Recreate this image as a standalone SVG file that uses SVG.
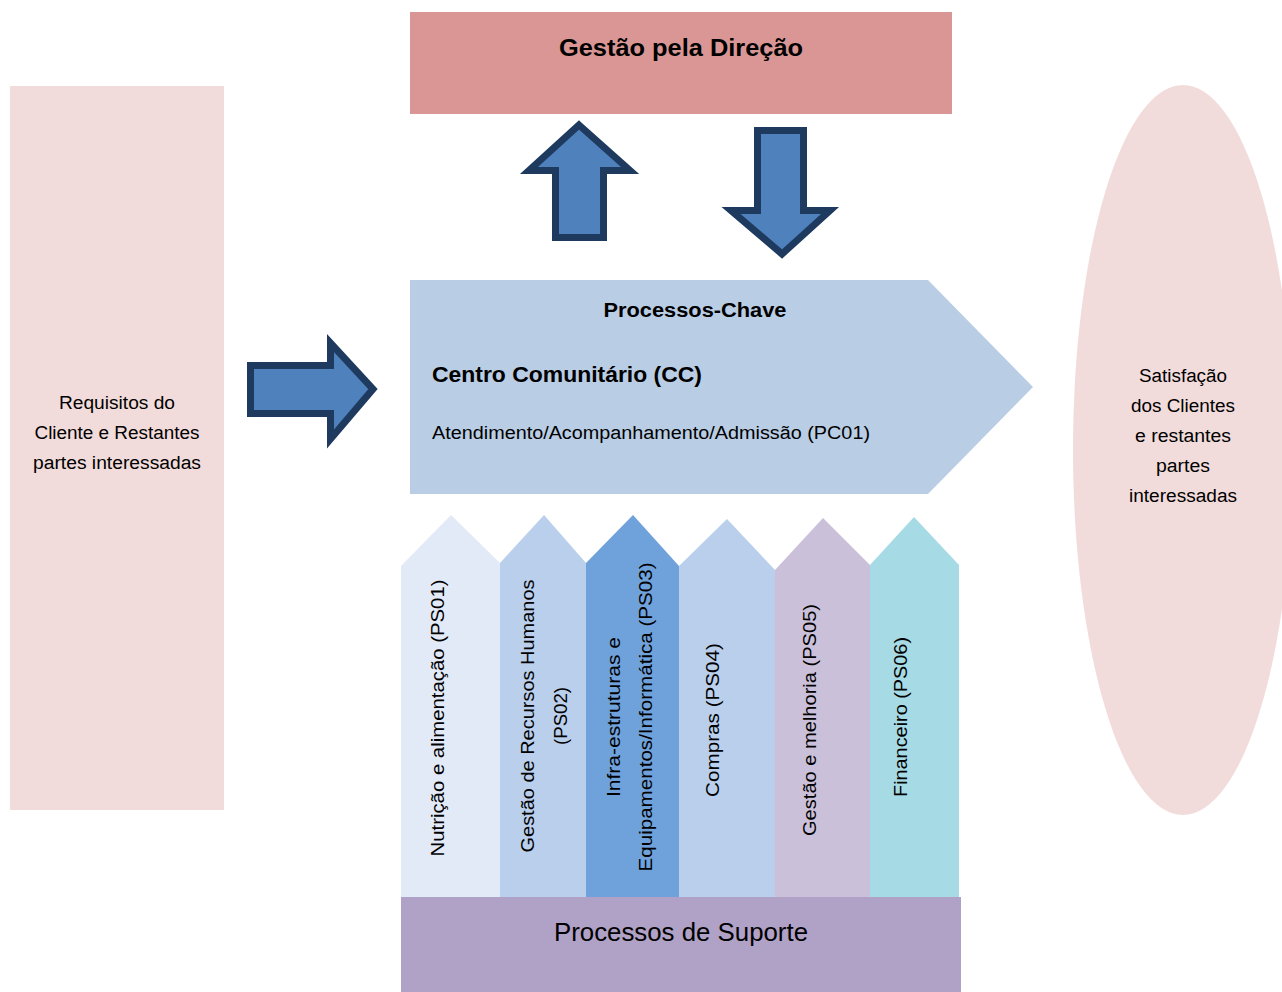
<svg xmlns="http://www.w3.org/2000/svg" width="1282" height="992" viewBox="0 0 1282 992">
<style>
text{font-family:"Liberation Sans",Arial,sans-serif;fill:#000;dominant-baseline:central}
.b{font-weight:bold}
.arr{fill:#4F81BD;stroke:#1F3A5F;stroke-width:7;stroke-linejoin:miter}
.t18{font-size:18px}
.c{text-anchor:middle}
</style>
<rect width="1282" height="992" fill="#fff"/>
<g id="gestao-direcao">
<rect x="410" y="12" width="542" height="102" fill="#D99694"/>
<text class="b c" x="681" y="48" font-size="23" textLength="244" lengthAdjust="spacingAndGlyphs">Gestão pela Direção</text>
</g>
<g id="requisitos">
<rect x="10" y="86" width="214" height="724" fill="#F2DCDB"/>
<text class="t18 c" x="117" y="403" textLength="116" lengthAdjust="spacingAndGlyphs">Requisitos do</text>
<text class="t18 c" x="117" y="433" textLength="165" lengthAdjust="spacingAndGlyphs">Cliente e Restantes</text>
<text class="t18 c" x="117" y="463" textLength="168" lengthAdjust="spacingAndGlyphs">partes interessadas</text>
</g>
<g id="satisfacao">
<ellipse cx="1183" cy="450" rx="110" ry="365" fill="#F2DCDB"/>
<text class="t18 c" x="1183" y="376" textLength="88" lengthAdjust="spacingAndGlyphs">Satisfação</text>
<text class="t18 c" x="1183" y="406" textLength="104" lengthAdjust="spacingAndGlyphs">dos Clientes</text>
<text class="t18 c" x="1183" y="436" textLength="96" lengthAdjust="spacingAndGlyphs">e restantes</text>
<text class="t18 c" x="1183" y="466" textLength="54" lengthAdjust="spacingAndGlyphs">partes</text>
<text class="t18 c" x="1183" y="496" textLength="108" lengthAdjust="spacingAndGlyphs">interessadas</text>
</g>
<g id="processos-chave">
<polygon points="410,280 928,280 1033,387 928,494 410,494" fill="#B9CDE5"/>
<text class="b c" x="695" y="310" font-size="20" textLength="183" lengthAdjust="spacingAndGlyphs">Processos-Chave</text>
<text class="b" x="432" y="374" font-size="22" textLength="270" lengthAdjust="spacingAndGlyphs">Centro Comunitário (CC)</text>
<text class="t18" x="432" y="433" textLength="438" lengthAdjust="spacingAndGlyphs">Atendimento/Acompanhamento/Admissão (PC01)</text>
</g>
<g id="connectors">
<polygon class="arr" points="579,125 630,170.5 603.5,170.5 603.5,237.5 555.5,237.5 555.5,170.5 529,170.5"/>
<polygon class="arr" points="757.5,130.5 803.5,130.5 803.5,210.5 830,210.5 782,254 731,210.5 757.5,210.5"/>
<polygon class="arr" points="250.5,365.5 330.5,365.5 330.5,343 373,389 330.5,439 330.5,413.5 250.5,413.5"/>
</g>
<g id="ps01">
<polygon points="401,566 451,515 500,563 500,899 401,899" fill="#E3EAF7"/>
<text class="c" font-size="19" transform="translate(437,718) rotate(-90)" x="0" y="0" textLength="277" lengthAdjust="spacingAndGlyphs">Nutrição e alimentação (PS01)</text>
</g>
<g id="ps02">
<polygon points="500,563 544,515 586,563 586,899 500,899" fill="#B9CFEC"/>
<text class="c" font-size="19" transform="translate(527,716) rotate(-90)" x="0" y="0" textLength="273" lengthAdjust="spacingAndGlyphs">Gestão de Recursos Humanos</text>
<text class="c" font-size="19" transform="translate(560,716) rotate(-90)" x="0" y="0" textLength="58" lengthAdjust="spacingAndGlyphs">(PS02)</text>
</g>
<g id="ps03">
<polygon points="586,563 633,515 679,566 679,899 586,899" fill="#6FA1DB"/>
<text class="c" font-size="19" transform="translate(613,717) rotate(-90)" x="0" y="0" textLength="160" lengthAdjust="spacingAndGlyphs">Infra-estruturas e</text>
<text class="c" font-size="19" transform="translate(645,717) rotate(-90)" x="0" y="0" textLength="309" lengthAdjust="spacingAndGlyphs">Equipamentos/Informática (PS03)</text>
</g>
<g id="ps04">
<polygon points="679,566 727,519 775,570 775,901 679,901" fill="#B9CFEC"/>
<text class="c" font-size="19" transform="translate(712,720) rotate(-90)" x="0" y="0" textLength="154" lengthAdjust="spacingAndGlyphs">Compras (PS04)</text>
</g>
<g id="ps05">
<polygon points="775,570 823,518 870,565 870,899 775,899" fill="#CBC0DA"/>
<text class="c" font-size="19" transform="translate(809,720) rotate(-90)" x="0" y="0" textLength="232" lengthAdjust="spacingAndGlyphs">Gestão e melhoria (PS05)</text>
</g>
<g id="ps06">
<polygon points="870,565 914,517 959,565 959,899 870,899" fill="#A6DAE5"/>
<text class="c" font-size="19" transform="translate(900,717) rotate(-90)" x="0" y="0" textLength="160" lengthAdjust="spacingAndGlyphs">Financeiro (PS06)</text>
</g>
<g id="processos-suporte">
<rect x="401" y="897" width="560" height="95" fill="#B0A1C6"/>
<text class="c" x="681" y="932" font-size="25" textLength="254" lengthAdjust="spacingAndGlyphs">Processos de Suporte</text>
</g>
</svg>
